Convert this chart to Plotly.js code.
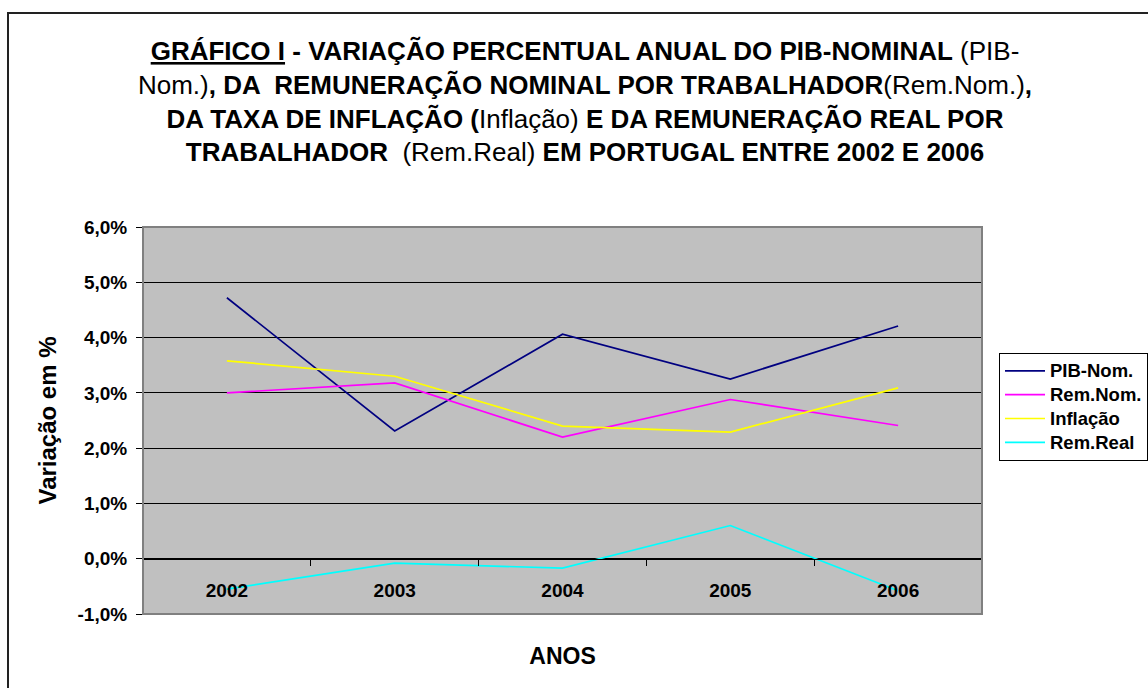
<!DOCTYPE html>
<html>
<head>
<meta charset="utf-8">
<script src="https://cdn.plot.ly/plotly-3.0.1.min.js"></script>
<style>html,body{margin:0;padding:0;background:#fff;}#chart{width:1148px;height:688px;}</style>
</head>
<body>
<div id="chart"></div>
<script>
const years = ['2002', '2003', '2004', '2005', '2006'];
const pibNom = [4.72, 2.31, 4.06, 3.25, 4.21];
const remNom = [3.00, 3.18, 2.20, 2.88, 2.41];
const inflacao = [3.58, 3.30, 2.40, 2.29, 3.09];
const remReal = [-0.55, -0.08, -0.17, 0.60, -0.58];
const seriesNames = ['PIB-Nom.', 'Rem.Nom.', 'Inflação', 'Rem.Real'];
const yTickVals = [-1, 0, 1, 2, 3, 4, 5, 6];
const yTickText = ['-1,0%', '0,0%', '1,0%', '2,0%', '3,0%', '4,0%', '5,0%', '6,0%'];

const W = 1148, H = 688;
const FONT = 'Liberation Sans, Arial, sans-serif';
const xDom = [143 / W, 982 / W];
const yDom = [1 - 614 / H, 1 - 227 / H];
const yRange = [-1, 6];
const zeroPos = yDom[0] + (yDom[1] - yDom[0]) * (0 - yRange[0]) / (yRange[1] - yRange[0]);

const colors = ['#000080', '#FF00FF', '#FFFF00', '#00FFFF'];
const values = [pibNom, remNom, inflacao, remReal];

const traces = values.map((v, i) => ({
  x: years, y: v, type: 'scatter', mode: 'lines',
  name: '<span style="font-size:18.5px">' + seriesNames[i] + '</span>',
  line: {color: colors[i], width: 1.7},
  hovertemplate: seriesNames[i] + ': %{y:.2f}%<extra></extra>'
}));

const titleText =
  '<b><u>GRÁFICO I</u> - VARIAÇÃO PERCENTUAL ANUAL DO PIB-NOMINAL</b> (PIB-<br>' +
  'Nom.)<b>, DA  REMUNERAÇÃO NOMINAL POR TRABALHADOR</b>(Rem.Nom.)<b>,</b><br>' +
  '<b>DA TAXA DE INFLAÇÃO (</b>Inflação) <b>E DA REMUNERAÇÃO REAL POR</b><br>' +
  '<b>TRABALHADOR</b>  (Rem.Real) <b>EM PORTUGAL ENTRE 2002 E 2006</b>';

const layout = {
  width: W, height: H,
  margin: {l: 0, r: 0, t: 0, b: 0, autoexpand: false},
  paper_bgcolor: '#ffffff',
  plot_bgcolor: '#c0c0c0',
  font: {family: FONT, color: '#000'},
  separators: ',.',
  title: {
    text: titleText,
    font: {family: FONT, size: 26, color: '#000'},
    x: 585 / W, xref: 'paper', xanchor: 'center',
    y: 1 - 60 / H, yref: 'container', yanchor: 'top'
  },
  xaxis: {
    domain: xDom,
    type: 'category',
    anchor: 'free', position: zeroPos,
    range: [-0.5, 4.5],
    showgrid: false, zeroline: false,
    showline: true, linecolor: '#000', linewidth: 1,
    ticks: 'outside', tickson: 'boundaries', ticklen: 6, tickcolor: '#000', tickwidth: 1,
    ticklabelstandoff: 14,
    tickfont: {family: FONT, size: 19, weight: 'bold', color: '#000'},
    title: {text: 'ANOS', standoff: 48, font: {family: FONT, size: 23, weight: 'bold', color: '#000'}}
  },
  yaxis: {
    domain: yDom,
    range: yRange,
    tickvals: yTickVals, ticktext: yTickText,
    showgrid: true, gridcolor: '#000', gridwidth: 1,
    zeroline: false, showline: false,
    ticks: 'outside', ticklen: 6, tickcolor: '#000', tickwidth: 1,
    ticklabelstandoff: 5,
    tickfont: {family: FONT, size: 19, weight: 'bold', color: '#000'},
    title: {text: 'Variação em %', standoff: 14, font: {family: FONT, size: 24, weight: 'bold', color: '#000'}}
  },
  showlegend: true,
  legend: {
    x: 999 / W, xanchor: 'left', xref: 'paper',
    y: 1 - 353 / H, yanchor: 'top', yref: 'paper',
    bgcolor: '#ffffff', bordercolor: '#000', borderwidth: 1,
    font: {family: FONT, size: 16, weight: 'bold', color: '#000'},
    itemwidth: 40,
    tracegroupgap: 0,
    traceorder: 'normal'
  },
  shapes: [
    {type: 'rect', xref: 'paper', yref: 'paper', x0: xDom[0], x1: xDom[1], y0: yDom[0], y1: yDom[1],
     line: {color: '#808080', width: 2}, fillcolor: 'rgba(0,0,0,0)', layer: 'above'},
    {type: 'path', xref: 'paper', yref: 'paper',
     path: 'M ' + (8 / W) + ' 0 L ' + (8 / W) + ' ' + (1 - 13 / H) + ' L 1 ' + (1 - 13 / H),
     line: {color: '#222', width: 2}}
  ]
};

Plotly.newPlot('chart', traces, layout, {displayModeBar: false, responsive: false});
</script>
</body>
</html>
